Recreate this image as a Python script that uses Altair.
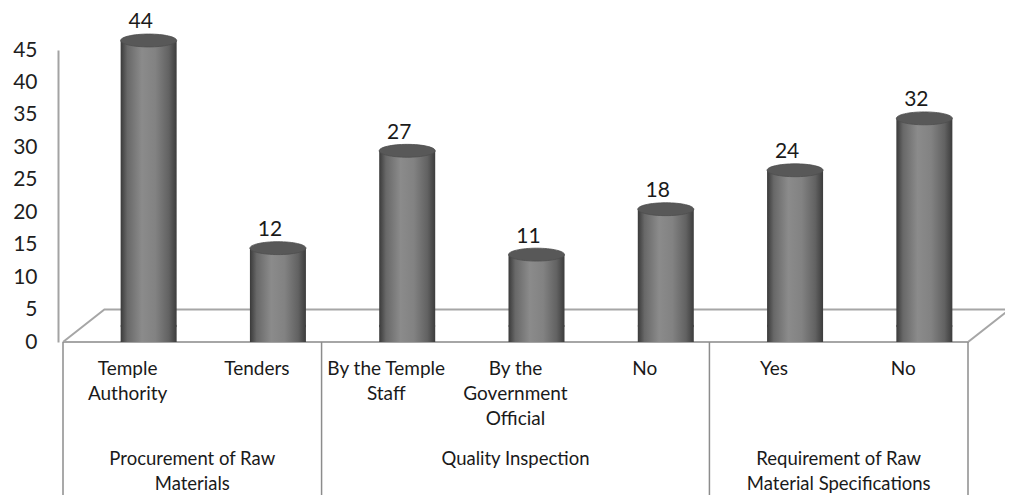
import altair as alt
import pandas as pd

# ---- data ----
sub_labels = ["Temple\nAuthority", "Tenders", "By the Temple\nStaff",
              "By the\nGovernment\nOfficial", "No", "Yes", "No"]
values = [44, 12, 27, 11, 18, 24, 32]
group_labels = ["Procurement of Raw\nMaterials", "Quality Inspection",
                "Requirement of Raw\nMaterial Specifications"]
group_sizes = [2, 3, 2]
y_ticks = [0, 5, 10, 15, 20, 25, 30, 35, 40, 45]

FONT = "Lato"
n = len(values)

bars = pd.DataFrame({
    "pos": [i + 0.5 for i in range(n)],
    "value": values,
    "label": sub_labels,
    "zero": [0] * n,
})

bounds = [0]
for s in group_sizes:
    bounds.append(bounds[-1] + s)
groups = pd.DataFrame({
    "pos": [(bounds[i] + bounds[i + 1]) / 2 for i in range(len(group_sizes))],
    "label": group_labels,
    "zero": [0] * len(group_sizes),
})
seps = pd.DataFrame({"pos": bounds, "zero": [0] * len(bounds), "bottom": [-26] * len(bounds)})

# 3-D floor outline (depth expressed in axis units)
dx, dy = 0.32, 5.0
floor = pd.DataFrame({
    "pos": [0, n, n + dx, dx, 0],
    "value": [0, 0, dy, dy, 0],
    "o": [0, 1, 2, 3, 4],
})

xscale = alt.Scale(domain=[0, n], nice=False, zero=False)
yscale = alt.Scale(domain=[0, 45], nice=False)
yaxis = alt.Axis(values=y_ticks, ticks=False, grid=False, domainColor="#a3a3a3",
                 domainWidth=2, labelFontSize=21, labelFont=FONT, labelColor="#1e1e1e",
                 labelPadding=21, title=None)

X = lambda f: alt.X(f, type="quantitative", scale=xscale, axis=None)
Y = lambda f: alt.Y(f, type="quantitative", scale=yscale, axis=yaxis)

cyl = alt.Gradient(
    gradient="linear", x1=0, x2=1, y1=0, y2=0,
    stops=[
        alt.GradientStop(color="#3a3a3a", offset=0),
        alt.GradientStop(color="#686868", offset=0.12),
        alt.GradientStop(color="#8b8b8b", offset=0.38),
        alt.GradientStop(color="#828282", offset=0.62),
        alt.GradientStop(color="#626262", offset=0.86),
        alt.GradientStop(color="#3c3c3c", offset=1),
    ],
)
ellipse = "M-1,0A1,0.23,0,1,0,1,0A1,0.23,0,1,0,-1,0Z"
BW = 56
OX, OY = 21, -16

floor_l = alt.Chart(floor).mark_line(color="#a6a6a6", strokeWidth=2).encode(
    x=X("pos"), y=Y("value"), order="o:Q")

sep_l = alt.Chart(seps).mark_rule(color="#8c8c8c", strokeWidth=1.5).encode(
    x=X("pos"), y=Y("zero"), y2="bottom")

bottom_l = alt.Chart(bars).mark_point(
    shape=ellipse, size=BW * BW, filled=True, fill=cyl, opacity=1, strokeWidth=0,
    xOffset=OX, yOffset=OY).encode(x=X("pos"), y=Y("zero"))

bar_l = alt.Chart(bars).mark_bar(size=BW, fill=cyl, xOffset=OX, yOffset=OY).encode(
    x=X("pos"), y=Y("value"), y2="zero")

top_l = alt.Chart(bars).mark_point(
    shape=ellipse, size=BW * BW, filled=True, fill="#585858", opacity=1,
    stroke="#4e4e4e", strokeWidth=0.8, xOffset=OX, yOffset=OY).encode(
    x=X("pos"), y=Y("value"))

val_l = alt.Chart(bars).mark_text(
    font=FONT, fontSize=21, color="#1a1a1a", baseline="alphabetic",
    xOffset=13, yOffset=-28).encode(x=X("pos"), y=Y("value"), text="value:Q")

sub_l = alt.Chart(bars).mark_text(
    font=FONT, fontSize=19, color="#1a1a1a", baseline="top", lineBreak="\n",
    lineHeight=25, dy=18).encode(x=X("pos"), y=Y("zero"), text="label:N")

grp_l = alt.Chart(groups).mark_text(
    font=FONT, fontSize=18.5, color="#1a1a1a", baseline="top", lineBreak="\n",
    lineHeight=25, dy=108).encode(x=X("pos"), y=Y("zero"), text="label:N")

chart = alt.layer(floor_l, sep_l, bottom_l, bar_l, top_l, val_l, sub_l, grp_l).properties(
    width=915, height=292,
    autosize=alt.AutoSizeParams(type="none"),
    padding={"left": 50, "top": 42, "right": 32, "bottom": 153},
    background="white",
).configure_view(stroke=None)

chart.save("out.html", embed_options={"renderer": "svg", "actions": False})
